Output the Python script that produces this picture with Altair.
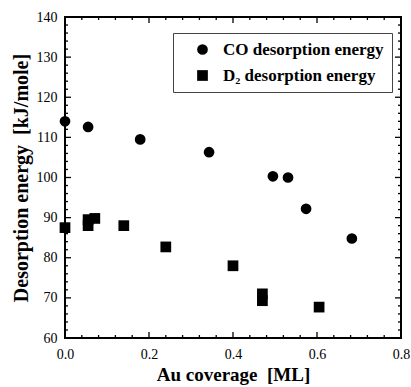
import altair as alt
import pandas as pd

co_x = [0.0, 0.055, 0.179, 0.343, 0.495, 0.531, 0.574, 0.683]
co_y = [114.0, 112.6, 109.5, 106.3, 100.3, 100.0, 92.2, 84.8]
d2_x = [0.0, 0.055, 0.055, 0.071, 0.14, 0.24, 0.40, 0.47, 0.47, 0.605]
d2_y = [87.5, 88.0, 89.5, 89.8, 88.0, 82.7, 78.0, 71.0, 69.3, 67.7]

series = ["CO desorption energy", "D\u2082 desorption energy"]

x_major = [0.0, 0.2, 0.4, 0.6, 0.8]
x_minor = [0.04, 0.08, 0.12, 0.16, 0.24, 0.28, 0.32, 0.36, 0.44, 0.48, 0.52, 0.56, 0.64, 0.68, 0.72, 0.76]
y_major = [60, 70, 80, 90, 100, 110, 120, 130, 140]
y_minor = [62, 64, 66, 68, 72, 74, 76, 78, 82, 84, 86, 88, 92, 94, 96, 98,
           102, 104, 106, 108, 112, 114, 116, 118, 122, 124, 126, 128, 132, 134, 136, 138]

df = pd.DataFrame({
    "x": co_x + d2_x,
    "y": co_y + d2_y,
    "s": [series[0]] * len(co_x) + [series[1]] * len(d2_x),
})

FONT = "Liberation Serif"
W, H = 336, 321
MAJ, MIN = 6, 3

xscale = alt.Scale(domain=[0, 0.8], nice=False, zero=False)
yscale = alt.Scale(domain=[60, 140], nice=False, zero=False)

xa = alt.Axis(values=x_major, format=".1f", ticks=False, domain=False, grid=False,
              labelFont=FONT, labelFontSize=14, labelColor="black", labelPadding=9,
              labelFlush=False, title="Au coverage\u00a0 [ML]", titleFont=FONT,
              titleFontSize=19, titleFontWeight="bold", titleColor="black", titlePadding=4)
ya = alt.Axis(values=y_major, format="d", ticks=False, domain=False, grid=False,
              labelFont=FONT, labelFontSize=14, labelColor="black", labelPadding=8,
              labelFlush=False, title="Desorption energy\u00a0 [kJ/mole]", titleFont=FONT,
              titleFontSize=20, titleFontWeight="bold", titleColor="black", titlePadding=5)

points = alt.Chart(df).mark_point(filled=True, opacity=1, color="black").encode(
    x=alt.X("x:Q", scale=xscale, axis=xa),
    y=alt.Y("y:Q", scale=yscale, axis=ya),
    shape=alt.Shape("s:N", scale=alt.Scale(domain=series, range=["circle", "square"]),
                    legend=alt.Legend(title=None, orient="none", legendX=108, legendY=16,
                                      labelFont=FONT, labelFontSize=17, labelFontWeight="bold",
                                      labelColor="black", labelLimit=300,
                                      symbolFillColor="black",
                                      symbolStrokeColor="black", symbolSize=115,
                                      symbolOffset=13, labelOffset=12, padding=8,
                                      rowPadding=8, fillColor="white",
                                      strokeColor="#444444", symbolType="circle")),
    size=alt.value(115),
)


def xticks(vals, y0, y1):
    d = pd.DataFrame({"x": vals})
    return alt.Chart(d).mark_rule(color="black", strokeWidth=1.3).encode(
        x=alt.X("x:Q", scale=xscale, axis=xa),
        y=alt.value(y0), y2=alt.value(y1),
    )


def yticks(vals, x0, x1):
    d = pd.DataFrame({"y": vals})
    return alt.Chart(d).mark_rule(color="black", strokeWidth=1.3).encode(
        y=alt.Y("y:Q", scale=yscale, axis=ya),
        x=alt.value(x0), x2=alt.value(x1),
    )


layers = [
    xticks(x_major, H, H - MAJ), xticks(x_major, 0, MAJ),
    xticks(x_minor, H, H - MIN), xticks(x_minor, 0, MIN),
    yticks(y_major, 0, MAJ), yticks(y_major, W, W - MAJ),
    yticks(y_minor, 0, MIN), yticks(y_minor, W, W - MIN),
    points,
]

chart = alt.layer(*layers).properties(
    width=W, height=H,
    autosize=alt.AutoSizeParams(type="none"),
    padding={"left": 65, "top": 17, "right": 10, "bottom": 49},
    background="white",
).configure_view(stroke="black", strokeWidth=2)

chart.save("out.html", embed_options={"renderer": "svg", "actions": False})
